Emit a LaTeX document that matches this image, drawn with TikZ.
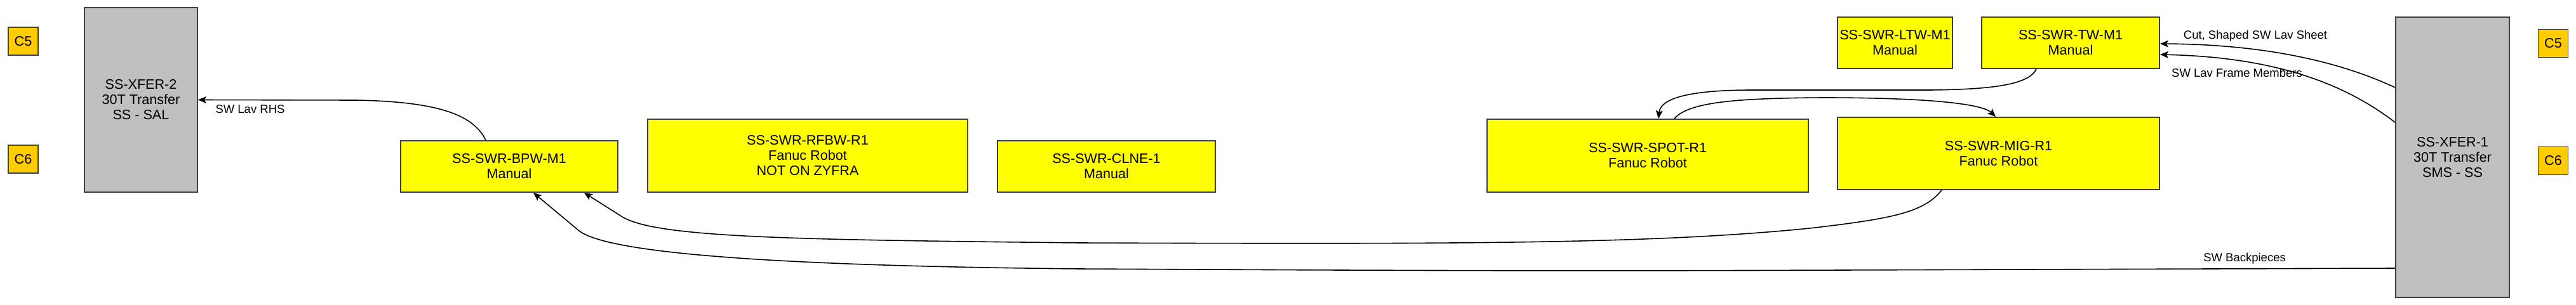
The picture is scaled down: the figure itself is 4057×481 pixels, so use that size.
\documentclass[tikz,border=0pt]{standalone}
\usepackage{fontspec}
\setmainfont{Liberation Sans}
\usetikzlibrary{arrows.meta}
\definecolor{xgray}{HTML}{C0C0C0}
\definecolor{cgold}{HTML}{FFCC00}
\definecolor{ybox}{HTML}{FFFF00}
\newcommand{\boxfont}{\fontsize{10.8pt}{12pt}\selectfont}
\newcommand{\lblfont}{\fontsize{9.25pt}{11pt}\selectfont}
\tikzset{
  box/.style={draw=black!75, line width=0.9pt, inner sep=0pt, align=center, font=\boxfont},
  yelbox/.style={box, fill=ybox},
  graybox/.style={box, fill=xgray},
  goldbox/.style={box, fill=cgold, minimum width=23.5pt, minimum height=22pt},
  lbl/.style={font=\lblfont, inner sep=0pt},
  conn/.style={draw=black, line width=0.8pt, -{Stealth[length=6.5pt,width=5.5pt,inset=1.5pt]}},
}
\begin{document}
\begin{tikzpicture}[x=0.5pt,y=-0.5pt]
\useasboundingbox (0,0) rectangle (4057,481);
% corner markers
\node[goldbox] (c5l) at (36.5,65) {C5};
\node[goldbox] (c6l) at (36.5,251) {C6};
\node[goldbox] (c5r) at (4021,68.5) {C5};
\node[goldbox] (c6r) at (4021,253.5) {C6};
% transfers
\node[graybox, minimum width=89pt, minimum height=145.5pt] (xfer2) at (222,157.5) {SS-XFER-2\\30T Transfer\\SS - SAL};
\node[graybox, minimum width=89.5pt, minimum height=221pt] (xfer1) at (3862.5,248) {SS-XFER-1\\30T Transfer\\SMS - SS};
% stations
\node[yelbox, minimum width=171pt, minimum height=40.5pt] (bpw) at (802,262.5) {SS-SWR-BPW-M1\\Manual};
\node[yelbox, minimum width=252pt, minimum height=57.5pt] (rfbw) at (1272,245.5) {SS-SWR-RFBW-R1\\Fanuc Robot\\NOT ON ZYFRA};
\node[yelbox, minimum width=171.5pt, minimum height=40.5pt] (clne) at (1742.5,262.5) {SS-SWR-CLNE-1\\Manual};
\node[yelbox, minimum width=253pt, minimum height=57.5pt] (spot) at (2595,245.5) {SS-SWR-SPOT-R1\\Fanuc Robot};
\node[yelbox, minimum width=253.5pt, minimum height=57pt] (mig) at (3147.5,242) {SS-SWR-MIG-R1\\Fanuc Robot};
\node[yelbox, minimum width=90.5pt, minimum height=40.5pt] (ltw) at (2984.5,67.5) {SS-SWR-LTW-M1\\Manual};
\node[yelbox, minimum width=140pt, minimum height=40.5pt] (tw) at (3261,67.5) {SS-SWR-TW-M1\\Manual};
% connectors
\draw[conn] ([xshift=-18.5pt]bpw.north) .. controls (745,178) and (680,160) .. (560,158) -- (xfer2.east);
\draw[conn] ([xshift=-27pt]tw.south) .. controls (3195,135) and (3130,141) .. (3040,142) -- (2760,142) .. controls (2660,142) and (2615,155) .. ([xshift=8.5pt]spot.north);
\draw[conn] ([xshift=21pt]spot.north) .. controls (2660,160) and (2740,155) .. (2870,154) .. controls (3020,154) and (3120,162) .. ([xshift=-2.25pt]mig.north);
\draw[conn] ([xshift=-44.75pt]mig.south) .. controls (3030,335) and (2980,345) .. (2850,360) .. controls (2600,385) and (2300,385) .. (1700,383) .. controls (1250,378) and (1035,375) .. (980,342) -- ([xshift=59pt]bpw.south);
\draw[conn] ([yshift=-87.5pt]xfer1.west) -- (2900,426) .. controls (2400,428) and (2100,426) .. (1700,424) .. controls (1300,420) and (965,405) .. (912,364) -- ([xshift=19pt]bpw.south);
\draw[conn] ([yshift=55pt]xfer1.west) .. controls (3680,95) and (3560,70) .. ([yshift=-0.75pt]tw.east);
\draw[conn] ([yshift=27.5pt]xfer1.west) .. controls (3690,130) and (3580,90) .. ([yshift=-9.25pt]tw.east);
% labels
\node[lbl] (lrhs) at (394,172) {SW Lav RHS};
\node[lbl] (lcut) at (3552,57) {Cut, Shaped SW Lav Sheet};
\node[lbl] (lframe) at (3523,115) {SW Lav Frame Members};
\node[lbl] (lback) at (3535,408) {SW Backpieces};
\end{tikzpicture}
\end{document}
